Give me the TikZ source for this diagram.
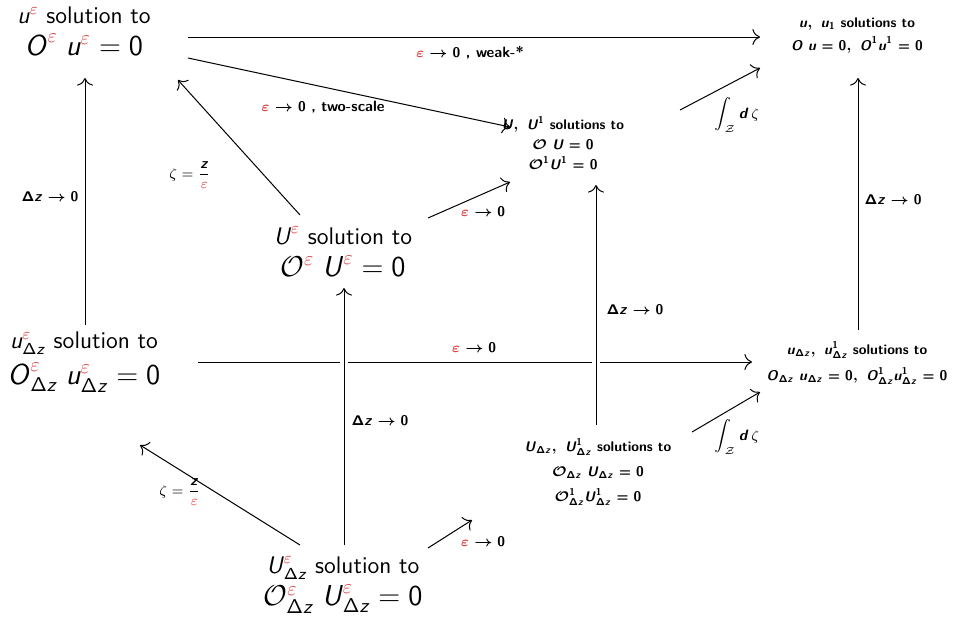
\documentclass[tikz,border=0pt]{standalone}
\usepackage{amsmath}
\usepackage{xcolor}
\usetikzlibrary{arrows.meta,calc}
% sans-serif digits and upright Greek in math
\DeclareSymbolFont{operators}{OT1}{cmss}{m}{n}
\SetSymbolFont{operators}{bold}{OT1}{cmss}{bx}{n}
% sans-serif oblique math letters, set as text
\newcommand{\mv}[1]{\text{\sffamily\slshape #1\/}}
\definecolor{epsred}{RGB}{222,70,70}
\newcommand{\eps}{{\color{epsred}\varepsilon}}
\newcommand{\Lsz}{\fontsize{14.4}{18}\selectfont}
\begin{document}
\begin{tikzpicture}[x=0.5pt,y=-0.5pt,
  big/.style={align=center, font=\fontsize{12}{16}\selectfont\sffamily, inner sep=0pt},
  small/.style={align=center, font=\fontsize{7}{10}\selectfont\sffamily\bfseries\boldmath, inner sep=0pt},
  lab/.style={font=\fontsize{7.5}{9}\selectfont\sffamily\bfseries\boldmath, inner sep=0pt},
  labn/.style={font=\fontsize{7.5}{9}\selectfont\sffamily\unboldmath, inner sep=0pt},
  arr/.style={->, >={Computer Modern Rightarrow[scale=1.4]}, line width=0.5pt},
  halo/.style={preaction={draw=white, line width=4pt, -}}]
\useasboundingbox (0,0) rectangle (962,618);
% nodes
\node[big] (A) at (84,31) {$\mv{u}^{\eps}$ solution to\\ \Lsz $\mv{O}^{\eps}\;\mv{u}^{\eps} = 0$};
\node[small] (B) at (857,35) {$\mv{u},\ \mv{u}_1$ solutions to\\[1.5pt] $\mv{O}\ \mv{u} = 0,\ \mv{O}^1 \mv{u}^1 = 0$};
\node[small] (C) at (563,143) {$\mv{U},\ \mv{U}^1$ solutions to\\ $\mathcal{O}\ \mv{U} = 0$\\ $\mathcal{O}^1 \mv{U}^1 = 0$};
\node[big] (D) at (343,252) {$\mv{U}^{\eps}$ solution to\\ \Lsz $\mathcal{O}^{\eps}\;\mv{U}^{\eps} = 0$};
\node[big] (E) at (84,362) {$\mv{u}^{\eps}_{\Delta \mv{z}}$ solution to\\[2pt] \Lsz $\mv{O}^{\eps}_{\Delta \mv{z}}\;\mv{u}^{\eps}_{\Delta \mv{z}} = 0$};
\node[small] (F) at (857,363) {$\mv{u}_{\Delta \mv{z}},\ \mv{u}^1_{\Delta \mv{z}}$ solutions to\\[3pt] $\mv{O}_{\Delta \mv{z}}\ \mv{u}_{\Delta \mv{z}} = 0,\ \mv{O}^1_{\Delta \mv{z}}\mv{u}^1_{\Delta \mv{z}} = 0$};
\node[small] (G) at (598,472) {$\mv{U}_{\Delta \mv{z}},\ \mv{U}^1_{\Delta \mv{z}}$ solutions to\\[2.5pt] $\mathcal{O}_{\Delta \mv{z}}\ \mv{U}_{\Delta \mv{z}} = 0$\\[2.5pt] $\mathcal{O}^1_{\Delta \mv{z}}\mv{U}^1_{\Delta \mv{z}} = 0$};
\node[big] (H) at (343,585) {$\mv{U}^{\eps}_{\Delta \mv{z}}$ solution to\\ \Lsz $\mathcal{O}^{\eps}_{\Delta \mv{z}}\;\mv{U}^{\eps}_{\Delta \mv{z}} = 0$};
% connectors
\draw[arr] ($(A)+(104,6)$) -- ($(B)+(-97,2)$);
\draw[arr] ($(A)+(104,27)$) -- ($(C)+(-53,-16)$);
\draw[arr] ($(D)+(-43,-37)$) -- ($(A)+(94,49)$);
\draw[arr] ($(E)+(1,-37)$) -- ($(A)+(1,47)$);
\draw[arr] ($(D)+(85,-34)$) -- ($(C)+(-53,39)$);
\draw[arr] ($(C)+(117,-33)$) -- ($(B)+(-97,33)$);
\draw[arr] ($(F)+(1,-33)$) -- ($(B)+(1,43)$);
\draw[arr] ($(E)+(114,0)$) -- ($(F)+(-105,-1)$);
\draw[arr,halo] ($(G)+(-2,-47)$) -- ($(C)+(33,42)$);
\draw[arr] ($(H)+(-43,-40)$) -- ($(E)+(56,83)$);
\draw[arr,halo] ($(H)+(1,-40)$) -- ($(D)+(1,36)$);
\draw[arr] ($(H)+(85,-37)$) -- ($(G)+(-126,48)$);
\draw[arr] ($(G)+(94,-40)$) -- ($(F)+(-97,29)$);
% labels
\node[lab] (l1) at (470,53) {$\eps\to 0$ , weak-*};
\node[lab] (l2) at (323,107) {$\eps\to 0$ , two-scale};
\node[labn] (l3) at (190,175) {$\zeta = \dfrac{\mv{\bfseries z}}{\eps}$};
\node[labn] (l4) at (180,492) {$\zeta = \dfrac{\mv{\bfseries z}}{\eps}$};
\node[lab] (l5) at (50,197) {$\Delta \mv{z}\to 0$};
\node[lab] (l6) at (893,200) {$\Delta \mv{z}\to 0$};
\node[lab] (l7) at (635,310) {$\Delta \mv{z}\to 0$};
\node[lab] (l8) at (380,421) {$\Delta \mv{z}\to 0$};
\node[lab] (l9) at (483,212) {$\eps\to 0$};
\node[lab] (l10) at (483,542) {$\eps\to 0$};
\node[lab] (l11) at (474,348) {$\eps\to 0$};
\node[labn] (l12) at (737,115) {$\displaystyle\int_{\mathcal{Z}}\mv{\bfseries d}\,\zeta$};
\node[labn] (l13) at (737,437) {$\displaystyle\int_{\mathcal{Z}}\mv{\bfseries d}\,\zeta$};
\end{tikzpicture}
\end{document}
